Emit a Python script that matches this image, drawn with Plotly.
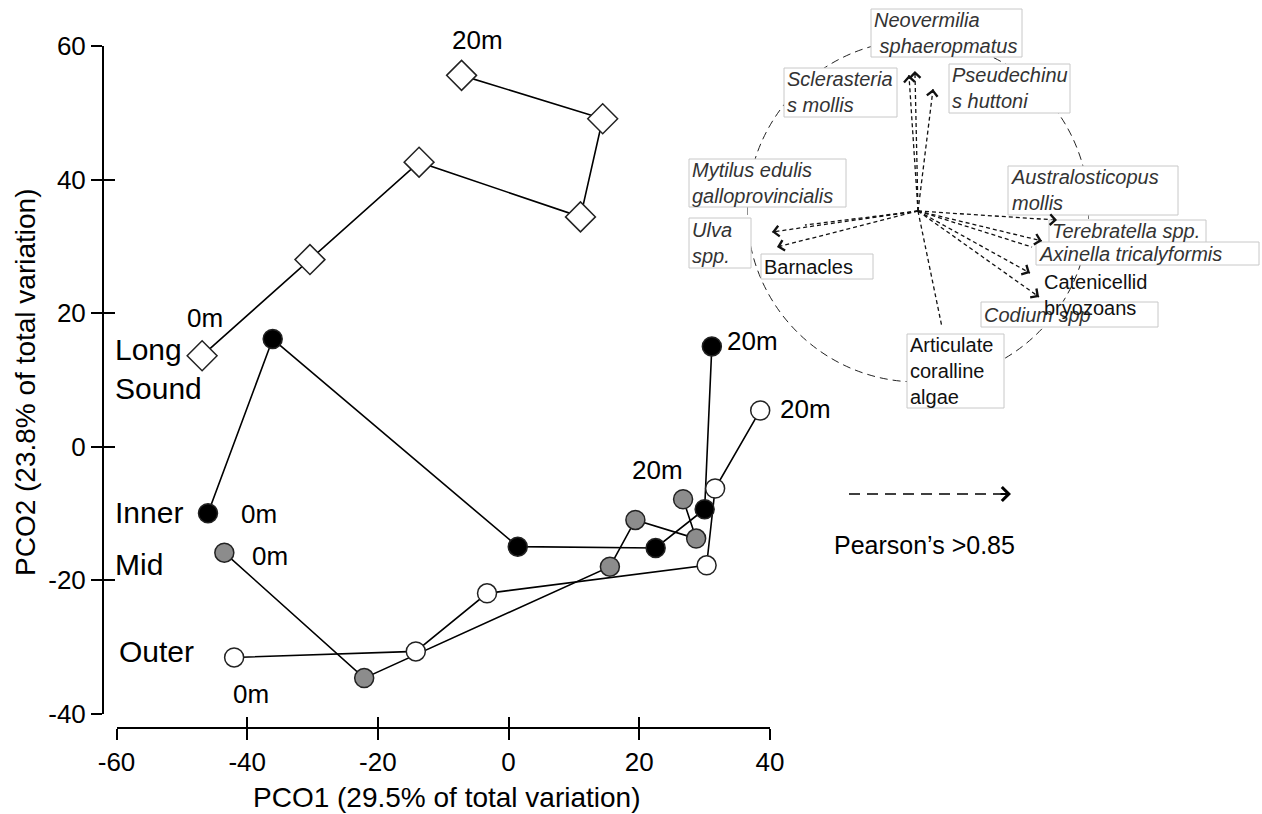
import plotly.graph_objects as go

# ---------------- data ----------------
# PCO scores along the depth transect (0 m -> 20 m) for each site
ls_x = [-46.9, -30.4, -13.7, 11.0, 14.4, -7.2]
ls_y = [13.6, 28.0, 42.6, 34.4, 49.1, 55.6]
inner_x = [-46.0, -36.1, 1.4, 22.5, 30.0, 31.1]
inner_y = [-10.0, 16.1, -15.0, -15.2, -9.4, 15.0]
mid_x = [-43.5, -22.1, 15.5, 19.4, 28.7, 26.7]
mid_y = [-15.9, -34.7, -18.0, -11.0, -13.8, -7.9]
outer_x = [-42.0, -14.2, -3.3, 30.3, 31.6, 38.5]
outer_y = [-31.6, -30.7, -22.0, -17.8, -6.3, 5.4]

x_ticks = [-60, -40, -20, 0, 20, 40]
x_tick_text = ["-60", "-40", "-20", "0", "20", "40"]
y_ticks = [-40, -20, 0, 20, 40, 60]
y_tick_text = ["-40", "-20", "0", "20", "40", "60"]

# Species correlation vectors (Pearson > 0.85), unit circle = r of 1
species = [
    "Neovermilia<br>\u00a0sphaeropmatus", "Sclerasteria<br>s mollis", "Pseudechinu<br>s huttoni",
    "Mytilus edulis<br>galloprovincialis", "Ulva<br>spp.", "Barnacles",
    "Articulate<br>coralline<br>algae", "Australosticopus<br>mollis", "Terebratella spp.",
    "Axinella tricalyformis", "Catenicellid<br>bryozoans", "Codium spp",
]
vec_x = [-0.018, -0.053, 0.088, -0.661, -0.854, -0.825, 0.140, 0.813, 0.725, 0.667, 0.655, 0.708]
vec_y = [0.819, 0.795, 0.713, -0.082, -0.123, -0.211, -0.678, -0.053, -0.175, -0.211, -0.363, -0.503]
species_italic = [True, True, True, True, True, False, False, True, True, True, False, True]

# ---------------- layout helpers ----------------
W, H = 1262, 814
FONT = "Liberation Sans, Arial, sans-serif"


def fx(p):
    return p / W


def fy(p):
    return 1 - p / H


fig = go.Figure()

groups = [
    (ls_x, ls_y, "diamond", "white", 23),
    (inner_x, inner_y, "circle", "black", 19),
    (mid_x, mid_y, "circle", "#8c8c8c", 19),
    (outer_x, outer_y, "circle", "white", 19),
]

# connecting lines first, markers on top
for xs, ys, sym, fill, size in groups:
    fig.add_trace(go.Scatter(x=xs, y=ys, mode="lines", line=dict(color="black", width=1.6),
                             showlegend=False, hoverinfo="skip", cliponaxis=False))
for xs, ys, sym, fill, size in groups:
    fig.add_trace(go.Scatter(x=xs, y=ys, mode="markers",
                             marker=dict(symbol=sym, size=size, color=fill,
                                         line=dict(color="#222222", width=1.5)),
                             showlegend=False, cliponaxis=False))

# overlay axes carry the inner half of the crossing tick marks
fig.add_trace(go.Scatter(x=[None], y=[None], xaxis="x2", yaxis="y2", showlegend=False))

# biplot vectors
for vx, vy in zip(vec_x, vec_y):
    fig.add_trace(go.Scatter(x=[0, vx], y=[0, vy], xaxis="x3", yaxis="y3", mode="lines",
                             line=dict(color="#111111", width=1.3, dash="4px,3px"),
                             showlegend=False, hoverinfo="skip"))

axis_common = dict(showgrid=False, zeroline=False, tickcolor="black", tickwidth=2, ticklen=11,
                   automargin=False)

fig.update_layout(
    width=W, height=H, autosize=False,
    margin=dict(l=0, r=0, t=0, b=0, pad=0, autoexpand=False),
    paper_bgcolor="white", plot_bgcolor="rgba(0,0,0,0)",
    font=dict(family=FONT, color="black"),
    xaxis=dict(domain=[fx(116.5), fx(770)], range=[-60, 40], anchor="free", position=fy(728),
               showline=True, linecolor="black", linewidth=2, ticks="outside",
               tickvals=x_ticks, ticktext=x_tick_text,
               tickfont=dict(size=26, family=FONT, color="black"), **axis_common),
    xaxis2=dict(domain=[fx(116.5), fx(770)], range=[-60, 40], anchor="free", position=fy(728),
                overlaying="x", showline=False, ticks="inside", tickvals=x_ticks,
                showticklabels=False, **axis_common),
    yaxis=dict(domain=[fy(713.5), fy(46)], range=[-40, 60], anchor="free", position=fx(103),
               showline=True, linecolor="black", linewidth=2, ticks="outside",
               tickvals=y_ticks, ticktext=y_tick_text,
               tickfont=dict(size=26, family=FONT, color="black"), **axis_common),
    yaxis2=dict(domain=[fy(713.5), fy(46)], range=[-40, 60], anchor="free", position=fx(103),
                overlaying="y", showline=False, ticks="inside", tickvals=y_ticks,
                showticklabels=False, **axis_common),
    xaxis3=dict(domain=[fx(747), fx(1089)], range=[-1, 1], anchor="y3", visible=False,
                automargin=False),
    yaxis3=dict(domain=[fy(382), fy(40)], range=[-1, 1], anchor="x3", visible=False,
                automargin=False),
)

shapes = [
    dict(type="circle", xref="x3", yref="y3", x0=-1, x1=1, y0=-1, y1=1,
         line=dict(color="#222222", width=1, dash="8px,5px"), layer="below"),
]

# label boxes: (left, top, right, bottom) in pixels; None = unboxed label
boxes = [
    (871, 9, 1022, 57), (784, 68, 897, 117), (949, 64, 1070, 113),
    (689, 159, 846, 207), (689, 218, 751, 268), (761, 254, 873, 279),
    (907, 334, 1004, 408), (1008, 166, 1178, 215), (1049, 220, 1206, 243),
    (1036, 242, 1259, 265), None, (981, 302, 1158, 327),
]
for b in boxes:
    if b is None:
        continue
    l, t, r, btm = b
    shapes.append(dict(type="rect", xref="paper", yref="paper",
                       x0=fx(l), x1=fx(r), y0=fy(btm), y1=fy(t),
                       fillcolor="white", line=dict(color="#c8c8c8", width=1), layer="above"))

# legend key arrow line
shapes.append(dict(type="line", xref="paper", yref="paper", x0=fx(849), x1=fx(1004),
                   y0=fy(494), y1=fy(494), line=dict(color="black", width=1.6, dash="11px,7px")))
fig.update_layout(shapes=shapes)

ann = []
# arrow heads on the species vectors
for vx, vy in zip(vec_x, vec_y):
    ann.append(dict(x=vx, y=vy, xref="x3", yref="y3", ax=vx * 0.96, ay=vy * 0.96,
                    axref="x3", ayref="y3", text="", showarrow=True, arrowhead=4,
                    arrowsize=1.6, arrowwidth=1.3, arrowcolor="#111111"))

# species labels (Codium before Catenicellid so the latter sits on top)
label_pos = {
    0: (872, 33), 1: (785, 92), 2: (950, 88), 3: (690, 183), 4: (690, 243), 5: (762, 267),
    6: (908, 371), 7: (1009, 190), 8: (1050, 231), 9: (1037, 254), 11: (982, 315), 10: (1042, 295),
}
for i in [0, 1, 2, 3, 4, 5, 6, 7, 8, 9, 11, 10]:
    px, py = label_pos[i]
    txt = species[i]
    if species_italic[i]:
        txt = "<i>" + txt + "</i>"
    ann.append(dict(x=fx(px), y=fy(py), xref="paper", yref="paper", xanchor="left",
                    yanchor="middle", align="left", text=txt, showarrow=False,
                    font=dict(size=20, family=FONT,
                              color="#333333" if species_italic[i] else "#111111")))

# legend key
ann.append(dict(x=fx(1011), y=fy(494), xref="paper", yref="paper", ax=-12, ay=0,
                text="", showarrow=True, arrowhead=4,
                arrowsize=1.5, arrowwidth=1.8, arrowcolor="black"))
ann.append(dict(x=fx(832), y=fy(545), xref="paper", yref="paper", xanchor="left", yanchor="middle",
                text="Pearson\u2019s >0.85", showarrow=False, font=dict(size=25, family=FONT)))

# site names
for txt, px, py in [("Long<br>Sound", 113, 369), ("Inner", 113, 512),
                    ("Mid", 113, 564), ("Outer", 117, 651)]:
    ann.append(dict(x=fx(px), y=fy(py), xref="paper", yref="paper", xanchor="left",
                    yanchor="middle", align="left", text=txt, showarrow=False,
                    font=dict(size=30, family=FONT)))

# depth labels
for txt, px, py in [("0m", 205, 318), ("20m", 477, 40), ("0m", 259, 514), ("0m", 270, 556),
                    ("0m", 251, 694), ("20m", 752, 341), ("20m", 806, 409), ("20m", 657, 470)]:
    ann.append(dict(x=fx(px), y=fy(py), xref="paper", yref="paper", xanchor="center",
                    yanchor="middle", text=txt, showarrow=False, font=dict(size=26, family=FONT)))

# axis titles
ann.append(dict(x=fx(447), y=fy(797), xref="paper", yref="paper", xanchor="center", yanchor="middle",
                text="PCO1 (29.5% of total variation)", showarrow=False, font=dict(size=28, family=FONT)))
ann.append(dict(x=fx(25), y=fy(382), xref="paper", yref="paper", xanchor="center", yanchor="middle",
                text="PCO2 (23.8% of total variation)", showarrow=False, textangle=-90,
                font=dict(size=28, family=FONT)))

fig.update_layout(annotations=ann)

fig.write_html("out.html")
